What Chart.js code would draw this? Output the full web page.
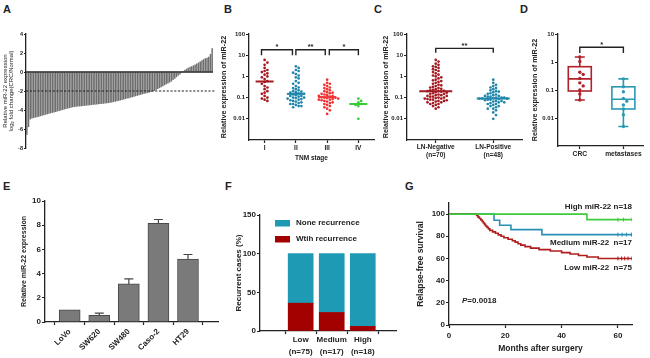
<!DOCTYPE html>
<html>
<head>
<meta charset="utf-8">
<script src="https://cdn.jsdelivr.net/npm/chart.js@4.4.1/dist/chart.umd.min.js"></script>
<style>
  body { margin: 0; width: 650px; height: 358px; position: relative; overflow: hidden; background: #fff;
         font-family: Arial, "Liberation Sans", sans-serif; color: #222; }
  .panel { position: absolute; }
  .letter { position: absolute; font-size: 11px; font-weight: bold; line-height: 1; }
  .note { position: absolute; font-size: 8px; font-weight: bold; line-height: 1; white-space: pre; }
</style>
</head>
<body>
<div class="letter" style="left:3px;top:3.5px">A</div>
<div class="letter" style="left:224px;top:3.5px">B</div>
<div class="letter" style="left:374px;top:3.5px">C</div>
<div class="letter" style="left:520px;top:3.5px">D</div>
<div class="letter" style="left:3px;top:181px">E</div>
<div class="letter" style="left:225px;top:181px">F</div>
<div class="letter" style="left:405px;top:181px">G</div>

<div class="panel" style="left:0;top:20px;width:220px;height:140px"><canvas id="chartA"></canvas></div>
<div class="panel" style="left:216px;top:20px;width:162px;height:145px"><canvas id="chartB"></canvas></div>
<div class="panel" style="left:374px;top:20px;width:152px;height:145px"><canvas id="chartC"></canvas></div>
<div class="panel" style="left:526px;top:20px;width:122px;height:145px"><canvas id="chartD"></canvas></div>
<div class="panel" style="left:15px;top:190px;width:205px;height:168px"><canvas id="chartE"></canvas></div>
<div class="panel" style="left:226px;top:195px;width:180px;height:163px"><canvas id="chartF"></canvas></div>
<div class="panel" style="left:412px;top:195px;width:236px;height:163px"><canvas id="chartG"></canvas></div>

<div class="note" style="right:18px;top:203px">High miR-22 n=18</div>
<div class="note" style="right:18px;top:239px">Medium miR-22  n=17</div>
<div class="note" style="right:18px;top:264px">Low miR-22  n=75</div>
<div class="note" style="left:462px;top:297px"><i>P</i>=0.0018</div>

<script>
// A: log2 fold change per patient, sorted
const aValues = [
  -6.6, -5.8, -5.0, -4.9, -4.85, -4.8, -4.75, -4.7, -4.65, -4.6,
  -4.55, -4.5, -4.45, -4.4, -4.35, -4.3, -4.25, -4.2, -4.15, -4.1,
  -4.05, -4.0, -3.95, -3.9, -3.85, -3.8, -3.75, -3.7, -3.68, -3.66,
  -3.64, -3.62, -3.6, -3.58, -3.56, -3.54, -3.52, -3.5, -3.48, -3.46,
  -3.44, -3.42, -3.4, -3.38, -3.36, -3.34, -3.32, -3.3, -3.27, -3.24,
  -3.2, -3.16, -3.12, -3.08, -3.04, -3.0, -2.95, -2.9, -2.85, -2.8,
  -2.75, -2.7, -2.65, -2.6, -2.55, -2.5, -2.45, -2.4, -2.35, -2.3,
  -2.25, -2.2, -2.15, -2.1, -2.05, -2.0, -1.9, -1.8, -1.7, -1.6,
  -1.5, -1.4, -1.3, -1.2, -1.1, -1.0, -0.85, -0.7, -0.55, -0.4,
  -0.25, -0.1, 0.1, 0.25, 0.35, 0.45, 0.55, 0.6, 0.7, 0.8,
  0.9, 1.0, 1.1, 1.25, 1.35, 1.45, 1.5, 1.6, 1.9, 2.5
];
const aTicks = [-8, -6, -4, -2, 0, 2, 4];

// B: expression by TNM stage
const bStages = ['I', 'II', 'III', 'IV'];
const bStage1 = [6, 4.5, 3.5, 2.5, 2, 1.8, 1.6, 1.4, 1.2, 1.0, 0.9, 0.75, 0.6, 0.55, 0.45, 0.35, 0.3, 0.25, 0.2, 0.17, 0.15, 0.12, 0.1, 0.09, 0.08, 0.07];
const bStage2 = [3, 2.5, 2, 1.8, 1.5, 1.3, 1.1, 0.9, 0.8, 0.6, 0.5, 0.45, 0.35, 0.3, 0.28, 0.25, 0.22, 0.2, 0.19, 0.18, 0.17, 0.16, 0.15,
                 0.14, 0.13, 0.12, 0.12, 0.11, 0.1, 0.1, 0.095, 0.09, 0.085, 0.08, 0.075, 0.07, 0.065, 0.06, 0.055, 0.05, 0.05, 0.045, 0.04, 0.04, 0.035];
const bStage3 = [0.7, 0.5, 0.45, 0.4, 0.35, 0.3, 0.28, 0.25, 0.22, 0.2, 0.18, 0.17, 0.16, 0.15, 0.14, 0.13, 0.12, 0.12, 0.11, 0.105,
                 0.1, 0.1, 0.095, 0.09, 0.085, 0.08, 0.08, 0.075, 0.07, 0.065, 0.06, 0.055, 0.05, 0.045, 0.04, 0.035, 0.03, 0.025, 0.017];
const bStage4 = [0.09, 0.07, 0.06, 0.05, 0.045, 0.04, 0.01];

// C: lymph node status
const cGroups = [['LN-Negative', '(n=70)'], ['LN-Positive', '(n=48)']];
const cNegative = [6, 5, 4, 3.5, 3, 2.8, 2.5, 2.2, 2, 1.8, 1.6, 1.4, 1.2, 1.1, 1.0, 0.9, 0.8, 0.7, 0.65, 0.6,
                   0.55, 0.5, 0.45, 0.4, 0.38, 0.35, 0.32, 0.3, 0.28, 0.26, 0.25, 0.23, 0.22, 0.21, 0.2, 0.2, 0.19, 0.18, 0.17, 0.16,
                   0.15, 0.15, 0.14, 0.13, 0.13, 0.12, 0.12, 0.11, 0.11, 0.1, 0.1, 0.095, 0.09, 0.09, 0.085, 0.08, 0.08, 0.075, 0.07, 0.07,
                   0.065, 0.06, 0.06, 0.055, 0.05, 0.05, 0.045, 0.04, 0.035, 0.03];
const cPositive = [0.7, 0.5, 0.4, 0.35, 0.3, 0.28, 0.25, 0.22, 0.2, 0.19, 0.18, 0.16, 0.15, 0.14, 0.13, 0.12, 0.12, 0.11, 0.11, 0.1,
                   0.1, 0.1, 0.095, 0.09, 0.09, 0.09, 0.085, 0.08, 0.08, 0.075, 0.07, 0.07, 0.065, 0.06, 0.06, 0.055, 0.05, 0.05, 0.045, 0.04,
                   0.04, 0.035, 0.03, 0.03, 0.025, 0.02, 0.015, 0.01];

// D: primary vs metastases
const dGroups = ['CRC', 'metastases'];
const dCRC = [1.5, 1.05, 0.43, 0.36, 0.26, 0.18, 0.14, 0.1, 0.072, 0.044];
const dMetastases = [0.25, 0.13, 0.087, 0.05, 0.04, 0.029, 0.021, 0.013, 0.005];
const dBoxMin = [0.044, 0.005];
const dBoxQ1 = [0.092, 0.021];
const dBoxMedian = [0.25, 0.047];
const dBoxQ3 = [0.68, 0.13];
const dBoxMax = [1.5, 0.25];

const logTickValues = [0.01, 0.1, 1, 10, 100];
const logTickLabels = ['0.01', '0.1', '1', '10', '100'];

// E: cell lines
const eLines = ['LoVo', 'SW620', 'SW480', 'Caso-2', 'HT29'];
const eMeans = [1.0, 0.55, 3.15, 8.15, 5.2];
const eErrors = [0, 0.18, 0.42, 0.32, 0.38];
const eTicks = [0, 2, 4, 6, 8, 10];

// F: recurrence by miR-22 level
const fGroups = [['Low', '(n=75)'], ['Medium', '(n=17)'], ['High', '(n=18)']];
const fRecurrence = [36, 24, 6];
const fNone = [64, 76, 94];
const fTicks = [0, 50, 100, 150];

// G: Kaplan-Meier [months, survival %]
const gHigh = [[0, 100], [49, 95], [65, 95]];
const gMedium = [[0, 100], [16, 94.5], [18, 90], [22, 86], [33, 81.5], [65, 81.5]];
const gLow = [[0, 100], [9.8, 98.7], [10.3, 97.3], [10.8, 96], [11.3, 94.7], [11.8, 93.3], [12.2, 92], [12.6, 90.7], [13, 89.3],
              [13.5, 88], [14, 86.7], [14.5, 85.3], [15.5, 84], [16.5, 82.7], [17.5, 81.3], [18.5, 80], [19.5, 78.7], [21, 77.3],
              [22.5, 76], [23.5, 74.7], [24.5, 73.3], [25.5, 72], [27, 70.7], [29, 69.3], [32, 68], [36, 66.7], [40, 65.3],
              [43, 64], [46, 62.7], [49, 61.3], [53, 60], [65, 60]];
const gHighCensor = [60, 62, 65];
const gMediumCensor = [60, 61.5, 63, 64.8];
const gLowCensor = [60, 61.3, 62.4, 63.6, 65];
const gXTicks = [0, 20, 40, 60];
const gYTicks = [0, 20, 40, 60, 80, 100];

const FONT = 'Arial, "Liberation Sans", sans-serif';
const INK = '#222';
const RED_DARK = '#a31a22', TEAL = '#1f86aa', RED = '#ee3434', GREEN = '#36cc36';

Chart.defaults.font.family = FONT;
Chart.defaults.color = INK;
Chart.defaults.animation = false;
Chart.defaults.responsive = true;
Chart.defaults.maintainAspectRatio = false;
Chart.defaults.plugins.legend.display = false;
Chart.defaults.plugins.tooltip.enabled = false;

function median(arr) {
  const s = [...arr].sort((a, b) => a - b), m = s.length >> 1;
  return s.length % 2 ? s[m] : (s[m - 1] + s[m]) / 2;
}

// deterministic beeswarm: spread equal-ish values sideways
function swarm(values, slot, pxPerUnit, pxPerDecade, gap) {
  const placed = [];
  return [...values].sort((a, b) => b - a).map(v => {
    const py = Math.log10(v) * pxPerDecade;
    let off = 0;
    for (let k = 0; k < 80; k++) {
      const cand = (k % 2 ? 1 : -1) * Math.ceil(k / 2) * gap;
      if (placed.every(p => Math.hypot(p.x - cand, p.y - py) >= gap)) { off = cand; break; }
    }
    placed.push({ x: off, y: py });
    return { x: slot + off / pxPerUnit, y: v };
  });
}

function fitY(w) { return s => { s.width = w; s.paddingTop = 0; s.paddingBottom = 0; }; }
function fitX(h) { return s => { s.height = h; s.paddingLeft = 0; s.paddingRight = 0; }; }
function onlyTicks(values) { return s => { s.ticks = values.map(v => ({ value: v })); }; }

function axis(o) {
  const a = {
    type: o.type || 'linear', min: o.min, max: o.max,
    border: { display: true, color: INK, width: 1.3 },
    grid: { drawOnChartArea: false, color: INK, tickLength: o.tick ?? 3, tickWidth: 1.2 },
    ticks: {
      color: INK, padding: o.pad ?? 1, autoSkip: false, maxRotation: o.rot ?? 0, minRotation: o.rot ?? 0,
      font: { family: FONT, size: o.size, weight: o.bold ? 'bold' : 'normal', lineHeight: o.lh ?? 1.2 }
    },
    afterBuildTicks: onlyTicks(o.tickValues),
    afterFit: o.horizontal ? fitX(o.box) : fitY(o.box)
  };
  if (o.labels) a.ticks.callback = o.labels;
  a.title = o.title ? {
    display: true, text: o.title, color: INK,
    font: { family: FONT, size: o.titleSize, weight: o.titleBold ? 'bold' : 'normal', lineHeight: o.titleLh ?? 1.2 },
    padding: { top: o.titlePad ?? 0, bottom: o.titlePad ?? 0 }
  } : { display: false };
  if (o.stacked) a.stacked = true;
  return a;
}
const logLabel = v => logTickLabels[logTickValues.indexOf(v)];

// ---- plugins ----
const refLinePlugin = {
  id: 'refLines',
  afterDatasetsDraw(chart, args, opts) {
    const { ctx, chartArea, scales: { y } } = chart;
    ctx.save();
    opts.items.forEach(r => {
      const py = y.getPixelForValue(r.y);
      ctx.strokeStyle = INK; ctx.lineWidth = r.width; ctx.setLineDash(r.dash || []);
      ctx.beginPath(); ctx.moveTo(chartArea.left, py); ctx.lineTo(chartArea.right + (r.extend || 0), py); ctx.stroke();
    });
    ctx.restore();
  }
};

const bracketPlugin = {
  id: 'brackets',
  afterDatasetsDraw(chart, args, opts) {
    const { ctx, scales: { x, y } } = chart;
    ctx.save();
    ctx.strokeStyle = INK; ctx.fillStyle = INK; ctx.lineWidth = 1.4;
    ctx.font = 'bold 7.5px ' + FONT; ctx.textAlign = 'center'; ctx.textBaseline = 'bottom';
    opts.items.forEach(b => {
      const x1 = x.getPixelForValue(b.from), x2 = x.getPixelForValue(b.to);
      const yt = y.getPixelForValue(b.top), yl = y.getPixelForValue(b.leg);
      ctx.beginPath(); ctx.moveTo(x1, yl); ctx.lineTo(x1, yt); ctx.lineTo(x2, yt); ctx.lineTo(x2, yl); ctx.stroke();
      ctx.fillText(b.text, (x1 + x2) / 2, yt + 1);
    });
    ctx.restore();
  }
};

const medianPlugin = {
  id: 'medians',
  afterDatasetsDraw(chart, args, opts) {
    const { ctx, scales: { x, y } } = chart;
    ctx.save(); ctx.lineWidth = 2;
    opts.items.forEach(m => {
      const px = x.getPixelForValue(m.x), py = y.getPixelForValue(m.y);
      ctx.strokeStyle = m.color;
      ctx.beginPath(); ctx.moveTo(px - opts.width / 2, py); ctx.lineTo(px + opts.width / 2, py); ctx.stroke();
    });
    ctx.restore();
  }
};

const boxPlugin = {
  id: 'boxes',
  beforeDatasetsDraw(chart, args, opts) {
    const { ctx, scales: { x, y } } = chart;
    const p = v => y.getPixelForValue(v);
    ctx.save(); ctx.lineWidth = 1.6;
    opts.items.forEach(b => {
      const cx = x.getPixelForValue(b.x), hw = opts.boxWidth / 2, cw = opts.capWidth / 2;
      ctx.strokeStyle = b.color;
      ctx.strokeRect(cx - hw, p(b.q3), 2 * hw, p(b.q1) - p(b.q3));
      ctx.beginPath();
      ctx.moveTo(cx - hw, p(b.med)); ctx.lineTo(cx + hw, p(b.med));
      ctx.moveTo(cx, p(b.q3)); ctx.lineTo(cx, p(b.max));
      ctx.moveTo(cx, p(b.q1)); ctx.lineTo(cx, p(b.min));
      ctx.moveTo(cx - cw, p(b.max)); ctx.lineTo(cx + cw, p(b.max));
      ctx.moveTo(cx - cw, p(b.min)); ctx.lineTo(cx + cw, p(b.min));
      ctx.stroke();
    });
    ctx.restore();
  }
};

const errorBarPlugin = {
  id: 'errorBars',
  afterDatasetsDraw(chart, args, opts) {
    const { ctx, scales: { y } } = chart;
    ctx.save(); ctx.strokeStyle = '#444'; ctx.lineWidth = 1.2;
    chart.getDatasetMeta(0).data.forEach((bar, i) => {
      if (!opts.errors[i]) return;
      const top = y.getPixelForValue(eMeans[i] + opts.errors[i]);
      ctx.beginPath();
      ctx.moveTo(bar.x, bar.y); ctx.lineTo(bar.x, top);
      ctx.moveTo(bar.x - 4.5, top); ctx.lineTo(bar.x + 4.5, top);
      ctx.stroke();
    });
    ctx.restore();
  }
};

const insideLegendPlugin = {
  id: 'insideLegend',
  afterDraw(chart, args, opts) {
    const { ctx, chartArea } = chart;
    ctx.save();
    ctx.font = 'bold 8px ' + FONT; ctx.textBaseline = 'middle';
    chart.data.datasets.slice().reverse().forEach((ds, i) => {
      const cy = chartArea.top + opts.y + i * opts.gap, lx = chartArea.left + opts.x;
      ctx.fillStyle = ds.backgroundColor; ctx.fillRect(lx, cy - 3, 15, 6.5);
      ctx.fillStyle = INK; ctx.fillText(ds.label, lx + 21, cy);
    });
    ctx.restore();
  }
};

// ---- A ----
new Chart(document.getElementById('chartA'), {
  type: 'bar',
  data: {
    labels: aValues.map((_, i) => i + 1),
    datasets: [{ data: aValues, backgroundColor: '#6f6f6f', barPercentage: 0.88, categoryPercentage: 1 }]
  },
  options: {
    layout: { padding: { top: 14, right: 7, bottom: 12 } },
    plugins: { refLines: { items: [{ y: 0, width: 1.3 }, { y: -2, width: 1.2, dash: [2.2, 1.6], extend: 2 }] } },
    scales: {
      x: { display: false },
      y: axis({ min: -8, max: 4, size: 5.5, bold: true, tick: 2, box: 26, tickValues: aTicks,
                title: ['Relative miR-22 expression', 'log\u2082 fold change(CRC/Normal)'], titleSize: 6, titleLh: 1, titlePad: 2 })
    }
  },
  plugins: [refLinePlugin]
});

// ---- B ----
const bGroups = [bStage1, bStage2, bStage3, bStage4];
const bColors = [RED_DARK, TEAL, RED, GREEN];
new Chart(document.getElementById('chartB'), {
  type: 'scatter',
  data: {
    datasets: bGroups.map((vals, i) => ({
      data: swarm(vals, i, 31.75, 21, 2.8), backgroundColor: bColors[i], borderWidth: 0, pointRadius: 1.35
    }))
  },
  options: {
    layout: { padding: { top: 14, right: 2 } },
    plugins: {
      medians: { width: 18, items: bGroups.map((vals, i) => ({ x: i, y: median(vals), color: bColors[i] })) },
      brackets: { items: [
        { from: -0.1, to: 0.89, top: 18, leg: 10, text: '*' },
        { from: 1.0, to: 1.94, top: 18, leg: 10, text: '**' },
        { from: 2.07, to: 3.0, top: 18, leg: 10, text: '*' }
      ] }
    },
    scales: {
      x: axis({ min: -0.5, max: 3.5, size: 6.5, bold: true, box: 25, horizontal: true, tickValues: [0, 1, 2, 3],
                labels: v => bStages[v], title: 'TNM stage', titleSize: 6.5, titleBold: true, titlePad: 3 }),
      y: axis({ type: 'logarithmic', min: 0.001, max: 100, size: 6, bold: true, box: 33, tickValues: logTickValues,
                labels: logLabel, title: 'Relative expression of miR-22', titleSize: 7.2, titleBold: true, titlePad: 4.2 })
    }
  },
  plugins: [medianPlugin, bracketPlugin]
});

// ---- C ----
const cSets = [cNegative, cPositive];
const cColors = [RED_DARK, TEAL];
new Chart(document.getElementById('chartC'), {
  type: 'scatter',
  data: {
    datasets: cSets.map((vals, i) => ({
      data: swarm(vals, i, 58.5, 21, 2.8), backgroundColor: cColors[i], borderWidth: 0, pointRadius: 1.35
    }))
  },
  options: {
    layout: { padding: { top: 14, right: 2 } },
    plugins: {
      medians: { width: 33, items: cSets.map((vals, i) => ({ x: i, y: median(vals), color: cColors[i] })) },
      brackets: { items: [{ from: 0, to: 1, top: 21, leg: 13, text: '**' }] }
    },
    scales: {
      x: axis({ min: -0.5, max: 1.5, size: 6.5, bold: true, lh: 1.3, pad: 0, box: 25, horizontal: true, tickValues: [0, 1],
                labels: v => cGroups[v] }),
      y: axis({ type: 'logarithmic', min: 0.001, max: 100, size: 6, bold: true, box: 33, tickValues: logTickValues,
                labels: logLabel, title: 'Relative expression of miR-22', titleSize: 7.2, titleBold: true, titlePad: 7.7 })
    }
  },
  plugins: [medianPlugin, bracketPlugin]
});

// ---- D ----
const dSets = [dCRC, dMetastases];
const dColors = ['#b0222a', '#2a9ab2'];
new Chart(document.getElementById('chartD'), {
  type: 'scatter',
  data: {
    datasets: dSets.map((vals, i) => ({
      data: swarm(vals, i, 43.6, 28, 3.4), backgroundColor: dColors[i], borderWidth: 0, pointRadius: 1.7
    }))
  },
  options: {
    layout: { padding: { top: 14, right: 5 } },
    plugins: {
      boxes: { boxWidth: 23, capWidth: 10, items: dGroups.map((g, i) => ({
        x: i, min: dBoxMin[i], q1: dBoxQ1[i], med: dBoxMedian[i], q3: dBoxQ3[i], max: dBoxMax[i], color: dColors[i]
      })) },
      brackets: { items: [{ from: 0, to: 1, top: 3.35, leg: 2.1, text: '*' }] }
    },
    scales: {
      x: axis({ min: -0.5, max: 1.45, size: 6.7, bold: true, pad: 1.3, box: 19, horizontal: true, tickValues: [0, 1],
                labels: v => dGroups[v] }),
      y: axis({ type: 'logarithmic', min: 0.001, max: 10, size: 6, bold: true, box: 32, tickValues: [0.01, 0.1, 1, 10],
                labels: logLabel, title: 'Relative expression of miR-22', titleSize: 7.2, titleBold: true, titlePad: 4.7 })
    }
  },
  plugins: [boxPlugin, bracketPlugin]
});

// ---- E ----
new Chart(document.getElementById('chartE'), {
  type: 'bar',
  data: {
    datasets: [{ data: eMeans.map((v, i) => ({ x: i, y: v })), backgroundColor: '#7a7a7a',
                 borderColor: '#4a4a4a', borderWidth: 1, barThickness: 21 }]
  },
  options: {
    layout: { padding: { top: 11, right: 2 } },
    plugins: { errorBars: { errors: eErrors } },
    scales: {
      x: axis({ min: -0.25, max: 4.43, size: 8, bold: true, pad: 2, rot: 45, box: 36, horizontal: true,
                tickValues: [0, 1, 2, 3, 4], labels: v => eLines[v] }),
      y: axis({ min: 0, max: 10, size: 8, bold: true, box: 30, tickValues: eTicks,
                title: 'Relative miR-22 expression', titleSize: 7, titleBold: true, titlePad: 5.3 })
    }
  },
  plugins: [errorBarPlugin]
});

// ---- F ----
new Chart(document.getElementById('chartF'), {
  type: 'bar',
  data: {
    datasets: [
      { label: 'Wtih recurrence', data: fRecurrence.map((v, i) => ({ x: i, y: v })), backgroundColor: '#a30000', barThickness: 25 },
      { label: 'None recurrence', data: fNone.map((v, i) => ({ x: i, y: v })), backgroundColor: '#1e9ab5', barThickness: 25 }
    ]
  },
  options: {
    layout: { padding: { top: 20, right: 10 } },
    plugins: { insideLegend: { x: 15, y: 8, gap: 16 } },
    scales: {
      x: axis({ min: -0.58, max: 2.34, size: 8, bold: true, lh: 1.45, pad: 0, box: 27, horizontal: true, stacked: true,
                tickValues: [0, 1, 2], labels: v => fGroups[v] }),
      y: axis({ min: 0, max: 150, size: 8, bold: true, box: 34, stacked: true, tickValues: fTicks,
                title: 'Recurrent cases (%)', titleSize: 8, titleBold: true, titlePad: 8.2 })
    }
  },
  plugins: [insideLegendPlugin]
});

// ---- G ----
const lastY = curve => curve[curve.length - 1][1];
const kmLine = (curve, color) => ({ data: curve.map(([x, y]) => ({ x, y })), borderColor: color, borderWidth: 1.6,
                                     stepped: 'before', pointRadius: 0, fill: false });
const kmCensor = (times, curve, color) => ({ data: times.map(x => ({ x, y: lastY(curve) })), showLine: false,
                                             pointStyle: 'line', rotation: 90, pointRadius: 2, borderColor: color, borderWidth: 1 });
const G_RED = '#b01c1c', G_TEAL = '#2a8fb5', G_GREEN = '#3dcc3d';
new Chart(document.getElementById('chartG'), {
  type: 'line',
  data: {
    datasets: [
      kmLine(gHigh, G_GREEN), kmLine(gLow, G_RED), kmLine(gMedium, G_TEAL),
      kmCensor(gHighCensor, gHigh, G_GREEN), kmCensor(gLowCensor, gLow, G_RED), kmCensor(gMediumCensor, gMedium, G_TEAL)
    ]
  },
  options: {
    layout: { padding: { top: 8, right: 16 } },
    scales: {
      x: axis({ min: 0, max: 65, size: 8, bold: true, pad: 3, box: 33, horizontal: true, tickValues: gXTicks,
                title: 'Months after surgery', titleSize: 8.5, titleBold: true, titlePad: 4.6 }),
      y: axis({ min: 0, max: 110, size: 8, bold: true, box: 37, tickValues: gYTicks,
                title: 'Relapse-free survival', titleSize: 8.5, titleBold: true, titlePad: 3.9 })
    }
  }
});
</script>
</body>
</html>
